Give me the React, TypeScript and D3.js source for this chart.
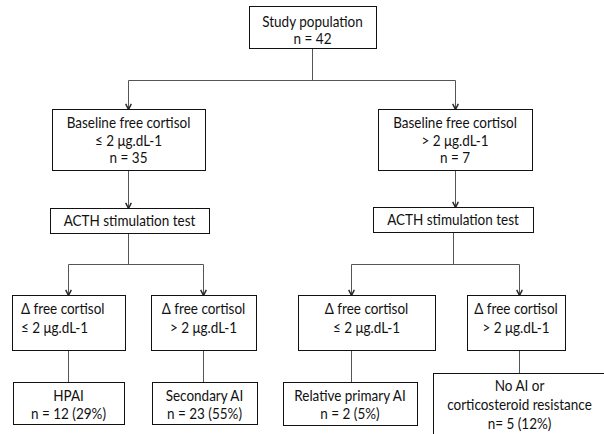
import React, { useEffect, useRef } from "react";
import * as d3 from "d3";

// Node texts
const rootLines = ["Study population", "n = 42"];
const baselineLines = [
  ["Baseline free cortisol", "≤ 2 μg.dL-1", "n = 35"],
  ["Baseline free cortisol", "> 2 μg.dL-1", "n = 7"],
];
const testLines = [["ACTH stimulation test"], ["ACTH stimulation test"]];
const deltaLines = [
  ["Δ free cortisol", "≤ 2 μg.dL-1"],
  ["Δ free cortisol", "> 2 μg.dL-1"],
  ["Δ free cortisol", "≤ 2 μg.dL-1"],
  ["Δ free cortisol", "> 2 μg.dL-1"],
];
const outcomeLines = [
  ["HPAI", "n = 12 (29%)"],
  ["Secondary AI", "n = 23 (55%)"],
  ["Relative primary AI", "n = 2 (5%)"],
  ["No AI or", "corticosteroid resistance", "n= 5 (12%)"],
];

interface Box {
  x0: number;
  x1: number;
  y0: number;
  y1: number;
  base: number; // first baseline
  step: number;
  align?: "left";
}

// Layout (pixel positions of the boxes)
const rootBox: Box = { x0: 249, x1: 376, y0: 6, y1: 48, base: 27, step: 17 };
const baselineBoxes: Box[] = [
  { x0: 52, x1: 205, y0: 109, y1: 170, base: 128, step: 17.5 },
  { x0: 378, x1: 532, y0: 109, y1: 170, base: 128, step: 17.5 },
];
const testBoxes: Box[] = [
  { x0: 50, x1: 209, y0: 208, y1: 233, base: 226, step: 0 },
  { x0: 373, x1: 533, y0: 207, y1: 232, base: 225, step: 0 },
];
const deltaBoxes: Box[] = [
  { x0: 12, x1: 125, y0: 295, y1: 350, base: 314, step: 19, align: "left" },
  { x0: 151, x1: 256, y0: 295, y1: 350, base: 314, step: 19 },
  { x0: 298, x1: 435, y0: 295, y1: 350, base: 314, step: 19 },
  { x0: 467, x1: 565, y0: 295, y1: 350, base: 314, step: 19 },
];
const outcomeBoxes: Box[] = [
  { x0: 13, x1: 124, y0: 382, y1: 424, base: 401, step: 18 },
  { x0: 152, x1: 257, y0: 382, y1: 424, base: 401, step: 18 },
  { x0: 283, x1: 417, y0: 382, y1: 425, base: 401, step: 18 },
  { x0: 433, x1: 606, y0: 373, y1: 440, base: 391, step: 19 },
];

// Connector x positions
const rootStemX = 312;
const splitY = [80, 264, 264];
const branchX = [128, 455];
const deltaX = [68, 203, 351, 519];
const testStemX = [128, 453];

const FONT = 15;
const SQUEEZE = 0.9;

export default function App() {
  const svgRef = useRef<SVGSVGElement>(null);

  useEffect(() => {
    document.body.style.margin = "0";
    if (!svgRef.current) return;
    const svg = d3.select(svgRef.current);
    svg.selectAll("*").remove();

    const defs = svg.append("defs");
    defs
      .append("marker")
      .attr("id", "arrow")
      .attr("viewBox", "0 0 10 10")
      .attr("refX", 9)
      .attr("refY", 5)
      .attr("markerWidth", 7)
      .attr("markerHeight", 7)
      .attr("markerUnits", "userSpaceOnUse")
      .attr("orient", "auto")
      .append("path")
      .attr("d", "M1,1 L9,5 L1,9")
      .attr("fill", "none")
      .attr("stroke", "#222")
      .attr("stroke-width", 2);

    const lines = svg.append("g").attr("stroke", "#555").attr("stroke-width", 1).attr("fill", "none");
    const seg = (pts: [number, number][], arrow = false) => {
      lines
        .append("path")
        .attr("d", d3.line()(pts.map(([x, y]) => [Math.round(x) + 0.5, y + 0.5]) as [number, number][]))
        .attr("marker-end", arrow ? "url(#arrow)" : null);
    };

    // root -> two baseline boxes
    seg([[rootStemX, rootBox.y1], [rootStemX, splitY[0]]]);
    seg([[branchX[0], splitY[0]], [branchX[1], splitY[0]]]);
    branchX.forEach((x, i) => seg([[x, splitY[0]], [x, baselineBoxes[i].y0]], true));

    // baseline -> test
    baselineBoxes.forEach((b, i) => seg([[branchX[i], b.y1], [branchX[i], testBoxes[i].y0]], true));

    // test -> delta boxes
    testBoxes.forEach((b, i) => {
      const y = splitY[i + 1];
      seg([[testStemX[i], b.y1], [testStemX[i], y]]);
      seg([[deltaX[i * 2], y], [deltaX[i * 2 + 1], y]]);
      [deltaX[i * 2], deltaX[i * 2 + 1]].forEach((x, k) =>
        seg([[x, y], [x, deltaBoxes[i * 2 + k].y0]], true)
      );
    });

    // delta -> outcome
    deltaBoxes.forEach((b, i) => seg([[deltaX[i], b.y1], [deltaX[i], outcomeBoxes[i].y0]]));

    const drawBox = (b: Box, text: string[]) => {
      const g = svg.append("g");
      g.append("rect")
        .attr("x", b.x0 + 0.5)
        .attr("y", b.y0 + 0.5)
        .attr("width", b.x1 - b.x0)
        .attr("height", b.y1 - b.y0)
        .attr("fill", "#fff")
        .attr("stroke", "#111")
        .attr("stroke-width", 1);
      const left = b.align === "left";
      const tx = left ? b.x0 + 9 : (b.x0 + b.x1) / 2;
      g.selectAll("text")
        .data(text)
        .join("text")
        .attr("transform", (_, i) => `translate(${tx},${b.base + i * b.step}) scale(${SQUEEZE},1)`)
        .attr("text-anchor", left ? "start" : "middle")
        .attr("font-family", "Lato, 'Open Sans', sans-serif")
        .attr("font-size", FONT)
        .attr("fill", "#111")
        .text((d) => d);
    };

    drawBox(rootBox, rootLines);
    baselineBoxes.forEach((b, i) => drawBox(b, baselineLines[i]));
    testBoxes.forEach((b, i) => drawBox(b, testLines[i]));
    deltaBoxes.forEach((b, i) => drawBox(b, deltaLines[i]));
    outcomeBoxes.forEach((b, i) => drawBox(b, outcomeLines[i]));
  }, []);

  return <svg ref={svgRef} width={604} height={434} style={{ display: "block", background: "#fff" }} />;
}
